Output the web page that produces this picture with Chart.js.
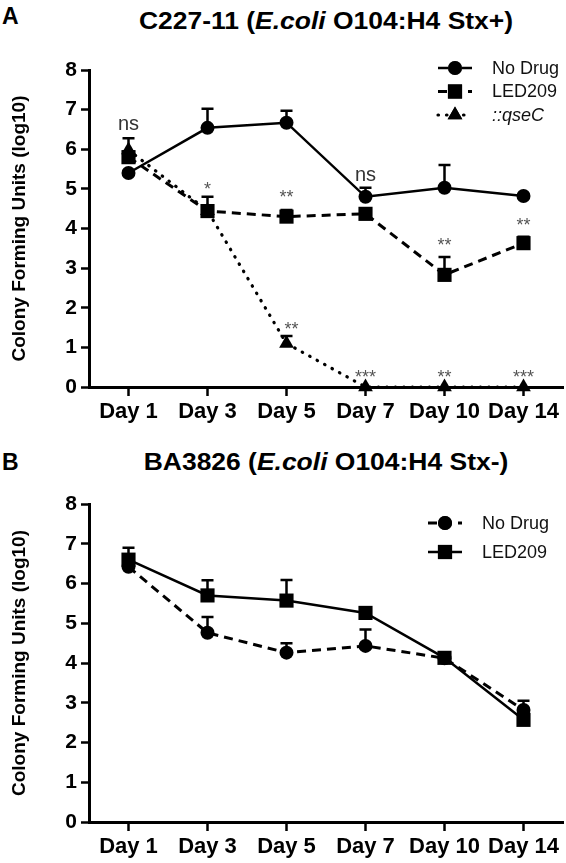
<!DOCTYPE html>
<html>
<head>
<meta charset="utf-8">
<script src="https://cdn.jsdelivr.net/npm/chart.js@4"></script>
<style>
  html, body { margin: 0; padding: 0; background: #fff; width: 566px; height: 863px; overflow: hidden; }
  body { position: relative; font-family: "Liberation Sans", Arial, sans-serif; }
  .panel { position: absolute; font-weight: bold; font-size: 23px; color: #000; }
  .title { position: absolute; font-weight: bold; font-size: 23px; color: #000; white-space: nowrap; transform: translate(-50%, -50%) scaleX(1.15); }
  .wrap { position: absolute; left: 0; width: 573px; }
</style>
</head>
<body>
<div class="panel" style="left:2px; top:3px;">A</div>
<div class="title" style="left:326px; top:21px;">C227-11 (<i>E.coli</i> O104:H4 Stx+)</div>
<div class="wrap" style="top:40px; height:390px;"><canvas id="chartA"></canvas></div>

<div class="panel" style="left:2px; top:449px;">B</div>
<div class="title" style="left:326px; top:462px;">BA3826 (<i>E.coli</i> O104:H4 Stx-)</div>
<div class="wrap" style="top:478px; height:385px;"><canvas id="chartB"></canvas></div>

<script>
// x categories shared by both panels
const days = ['Day 1', 'Day 3', 'Day 5', 'Day 7', 'Day 10', 'Day 14'];
const yTicks = [0, 1, 2, 3, 4, 5, 6, 7, 8];

// Panel A - C227-11 (Stx+)
const noDrugA = [5.40, 6.54, 6.67, 4.80, 5.03, 4.82];
const noDrugAErr = [0.05, 0.48, 0.30, 0.23, 0.57, 0.03];
const ledA = [5.80, 4.44, 4.30, 4.37, 2.83, 3.63];
const ledAErr = [0.15, 0.36, 0.17, 0.05, 0.45, 0.16];
const qseA = [5.98, 4.45, 1.10, 0, 0, 0];
const qseAErr = [0.30, 0.10, 0.19, 0, 0, 0];

// significance marks, panel A
const sigLedA = ['ns', '*', '**', 'ns', '**', '**'];
const sigLedAY = [6.62, 4.98, 4.76, 5.35, 3.56, 4.06];
const sigQseA = ['', '', '**', '***', '**', '***'];
const sigQseAY = [0, 0, 1.43, 0.22, 0.22, 0.22];

// Panel B - BA3826 (Stx-)
const noDrugB = [6.42, 4.76, 4.26, 4.43, 4.12, 2.82];
const noDrugBErr = [0.10, 0.40, 0.24, 0.41, 0.05, 0.23];
const ledB = [6.60, 5.70, 5.57, 5.26, 4.13, 2.57];
const ledBErr = [0.30, 0.38, 0.52, 0.05, 0.05, 0.10];

const FONT = '"Liberation Sans", Arial, sans-serif';

/**
 * Draws upper error bars, significance text and the in-plot legend
 */
function extrasPlugin(cfg) {
    return {
        id: 'extras',
        afterDatasetsDraw(chart) {
            const ctx = chart.ctx;
            const xs = chart.scales.x;
            const ys = chart.scales.y;
            ctx.save();
            // error bars (upper only)
            chart.data.datasets.forEach((ds) => {
                if (!ds.err) return;
                ds.data.forEach((v, i) => {
                    const e = ds.err[i];
                    if (!e) return;
                    const x = xs.getPixelForValue(i);
                    const y0 = ys.getPixelForValue(v);
                    const y1 = ys.getPixelForValue(v + e);
                    if (y0 - y1 < 1) return;
                    ctx.strokeStyle = '#000';
                    ctx.lineWidth = 2.5;
                    ctx.setLineDash([]);
                    ctx.beginPath();
                    ctx.moveTo(x, y0);
                    ctx.lineTo(x, y1);
                    ctx.moveTo(x - 6, y1);
                    ctx.lineTo(x + 6, y1);
                    ctx.stroke();
                });
            });
            // significance labels
            ctx.textAlign = 'center';
            ctx.textBaseline = 'middle';
            (cfg.sigs || []).forEach((s) => {
                s.text.forEach((t, i) => {
                    if (!t) return;
                    const x = xs.getPixelForValue(i) + (s.dx ? s.dx[i] : 0);
                    const y = ys.getPixelForValue(s.y[i]);
                    if (t === 'ns') {
                        ctx.font = '20px ' + FONT;
                        ctx.fillStyle = '#333';
                    } else {
                        ctx.font = '18px ' + FONT;
                        ctx.fillStyle = '#555';
                    }
                    ctx.fillText(t, x, y);
                });
            });
            // legend
            const lg = cfg.legend;
            const area = chart.chartArea;
            chart.data.datasets.forEach((ds, i) => {
                const y = area.top + lg.top + i * lg.gap;
                const x0 = area.right - lg.sampleLeft;
                const x1 = x0 + lg.sampleWidth;
                ctx.strokeStyle = '#000';
                ctx.lineWidth = ds.borderWidth;
                ctx.lineCap = ds.borderCapStyle || 'butt';
                ctx.setLineDash(ds.borderDash || []);
                ctx.beginPath();
                ctx.moveTo(x0, y);
                ctx.lineTo(x1, y);
                ctx.stroke();
                ctx.setLineDash([]);
                Chart.helpers.drawPoint(ctx, {
                    pointStyle: ds.pointStyle,
                    radius: ds.pointRadius,
                    borderWidth: 0,
                    rotation: 0
                }, (x0 + x1) / 2, y);
                ctx.fillStyle = '#000';
                ctx.fill();
                ctx.font = (ds.italicLabel ? 'italic ' : '') + '18px ' + FONT;
                ctx.fillStyle = '#111';
                ctx.textAlign = 'left';
                ctx.fillText(ds.label, area.right - lg.textLeft, y + 1);
            });
            ctx.restore();
        }
    };
}

function makeSeries(label, data, err, style, dash, cap, width, radius, italic) {
    return {
        label: label,
        data: data,
        err: err,
        borderColor: '#000',
        backgroundColor: '#000',
        pointBackgroundColor: '#000',
        pointBorderColor: '#000',
        pointBorderWidth: 0,
        pointStyle: style,
        pointRadius: radius,
        borderWidth: width,
        borderDash: dash,
        borderCapStyle: cap,
        tension: 0,
        clip: false,
        italicLabel: italic
    };
}

function axisOptions(yWidth, xHeight) {
    return {
        x: {
            type: 'category',
            offset: true,
            border: { color: '#000', width: 3 },
            grid: { display: true, drawOnChartArea: false, drawTicks: true, tickLength: 9, tickColor: '#000', tickWidth: 2.5, offset: false },
            ticks: { color: '#000', font: { family: FONT, size: 22, weight: 'bold' }, padding: 3, maxRotation: 0, autoSkip: false },
            afterFit(scale) {
                scale.height = xHeight;
                scale.paddingLeft = 0;
                scale.paddingRight = 0;
            }
        },
        y: {
            min: 0,
            max: 8,
            border: { color: '#000', width: 3 },
            grid: { display: true, drawOnChartArea: false, drawTicks: true, tickLength: 8, tickColor: '#000', tickWidth: 2.5 },
            ticks: {
                stepSize: 1,
                color: '#000',
                padding: 4,
                font: { family: FONT, size: 21, weight: 'bold' },
                callback: (v) => yTicks.includes(v) ? String(v) : ''
            },
            title: {
                display: true,
                text: 'Colony Forming Units (log10)',
                color: '#000',
                font: { family: FONT, size: 19, weight: 'bold' },
                padding: { top: 8, bottom: 0 }
            },
            afterFit(scale) {
                scale.width = yWidth;
                scale.paddingTop = 0;
                scale.paddingBottom = 0;
            }
        }
    };
}

function baseOptions(padTop, yWidth, xHeight) {
    return {
        responsive: true,
        maintainAspectRatio: false,
        animation: false,
        layout: { padding: { top: padTop, right: 3, left: 0, bottom: 0 } },
        plugins: { legend: { display: false }, tooltip: { enabled: false } },
        scales: axisOptions(yWidth, xHeight)
    };
}

// Panel A
new Chart(document.getElementById('chartA'), {
    type: 'line',
    data: {
        labels: days,
        datasets: [
            makeSeries('No Drug', noDrugA, noDrugAErr, 'circle', [], 'butt', 2.5, 7, false),
            makeSeries('LED209', ledA, ledAErr, 'rect', [9, 6], 'butt', 3, 10, false),
            makeSeries('::qseC', qseA, qseAErr, 'triangle', [0.5, 8], 'round', 3.2, 8.5, true)
        ]
    },
    options: baseOptions(30, 89, 43),
    plugins: [extrasPlugin({
        sigs: [
            { text: sigLedA, y: sigLedAY },
            { text: sigQseA, y: sigQseAY, dx: [0, 0, 5, 0, 0, 0] }
        ],
        legend: { top: -2, gap: 23.5, sampleLeft: 125, sampleWidth: 34, textLeft: 71 }
    })]
});

// Panel B
new Chart(document.getElementById('chartB'), {
    type: 'line',
    data: {
        labels: days,
        datasets: [
            makeSeries('No Drug', noDrugB, noDrugBErr, 'circle', [9, 6], 'butt', 3, 7, false),
            makeSeries('LED209', ledB, ledBErr, 'rect', [], 'butt', 2.5, 10, false)
        ]
    },
    options: baseOptions(26, 89, 41),
    plugins: [extrasPlugin({
        sigs: [],
        legend: { top: 19, gap: 29, sampleLeft: 135, sampleWidth: 34, textLeft: 81 }
    })]
});
</script>
</body>
</html>
